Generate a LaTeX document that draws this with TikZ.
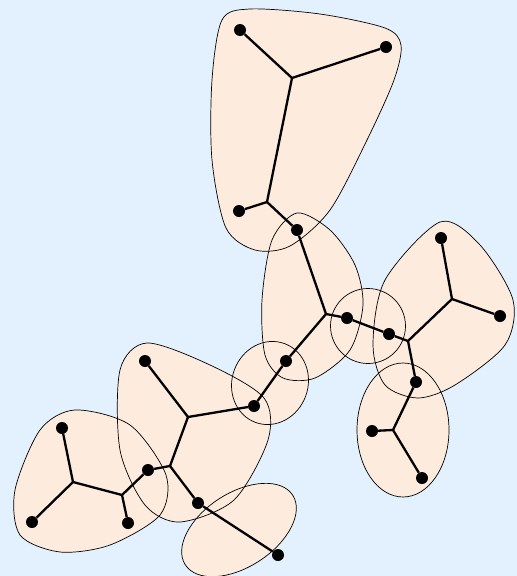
\documentclass[tikz,border=0pt]{standalone}
\definecolor{bgc}{HTML}{E3F0FE}
\definecolor{blobc}{HTML}{FDECDD}
\begin{document}
\begin{tikzpicture}[x=1pt,y=-1pt,
  dot/.style={circle,fill=black,inner sep=0pt,minimum size=12pt},
  edge/.style={line width=2.3pt},
  blobfill/.style={fill=blobc,draw=none},
  blobline/.style={draw=black,line width=0.7pt}]
\fill[bgc] (0,0) rectangle (517,576);
\useasboundingbox (0,0) rectangle (517,576);
% blob shapes
\def\blobA{plot[smooth cycle] coordinates {(222,20) (250,9) (320,14) (385,28) (401,45) (394,80) (367,140) (330,210) (290,246) (255,250) (226,228) (212,160) (212,80)}}
\def\blobB{plot[smooth cycle] coordinates {(297,213) (330,230) (355,265) (363,305) (350,350) (315,378) (283,378) (265,355) (262,300) (272,240)}}
\def\blobD{plot[smooth cycle] coordinates {(440,222) (480,245) (513,300) (505,345) (455,385) (418,398) (385,385) (373,345) (385,280)}}
\def\blobG{plot[smooth cycle] coordinates {(147,343) (210,365) (264,398) (268,440) (234,500) (180,522) (145,505) (120,450) (120,370)}}
\def\blobH{plot[smooth cycle] coordinates {(75,410) (130,425) (166,475) (160,515) (110,545) (60,552) (20,535) (15,490) (40,430)}}
\foreach \s in {blobfill,blobline}{
  \path[\s] \blobA; \path[\s] \blobB; \path[\s] \blobD; \path[\s] \blobG; \path[\s] \blobH;
  \path[\s] (368,326) circle (37.5);
  \path[\s] (403,430) ellipse (46 and 67);
  \path[\s,rotate around={-20:(270,383)}] (270,383) ellipse (38 and 42);
  \path[\s,rotate around={33:(239,530)}] (239,530) ellipse (64 and 37);
}
% junctions
\coordinate (p1) at (292,78);
\coordinate (p2) at (267,202);
\coordinate (j1) at (326,314);
\coordinate (j2) at (408,341);
\coordinate (j3) at (452,299);
\coordinate (j4) at (393,430);
\coordinate (j5) at (188,417);
\coordinate (j6) at (170,466);
\coordinate (j7) at (122,495);
\coordinate (j8) at (73,482);
% dots
\node[dot] (a) at (240,30) {};
\node[dot] (b) at (386,47) {};
\node[dot] (c) at (239,211) {};
\node[dot] (d) at (297,230) {};
\node[dot] (e) at (347,318) {};
\node[dot] (f) at (389,334) {};
\node[dot] (g1) at (441,238) {};
\node[dot] (g2) at (500,316) {};
\node[dot] (g) at (416,382) {};
\node[dot] (h1) at (372,431) {};
\node[dot] (h2) at (422,478) {};
\node[dot] (h) at (286,361) {};
\node[dot] (i) at (254,406) {};
\node[dot] (k1) at (145,361) {};
\node[dot] (k) at (148,470) {};
\node[dot] (l) at (198,503) {};
\node[dot] (l1) at (278,555) {};
\node[dot] (m1) at (128,523) {};
\node[dot] (n1) at (62,428) {};
\node[dot] (n2) at (32,522) {};
% edges
\draw[edge] (a) -- (p1) -- (b);
\draw[edge] (p1) -- (p2) -- (c);
\draw[edge] (p2) -- (d) -- (j1) -- (e) -- (f) -- (j2) -- (j3) -- (g1);
\draw[edge] (j3) -- (g2);
\draw[edge] (j2) -- (g) -- (j4) -- (h1);
\draw[edge] (j4) -- (h2);
\draw[edge] (j1) -- (h) -- (i) -- (j5) -- (k1);
\draw[edge] (j5) -- (j6) -- (k) -- (j7) -- (m1);
\draw[edge] (j7) -- (j8) -- (n1);
\draw[edge] (j8) -- (n2);
\draw[edge] (j6) -- (l) -- (l1);
\end{tikzpicture}
\end{document}
